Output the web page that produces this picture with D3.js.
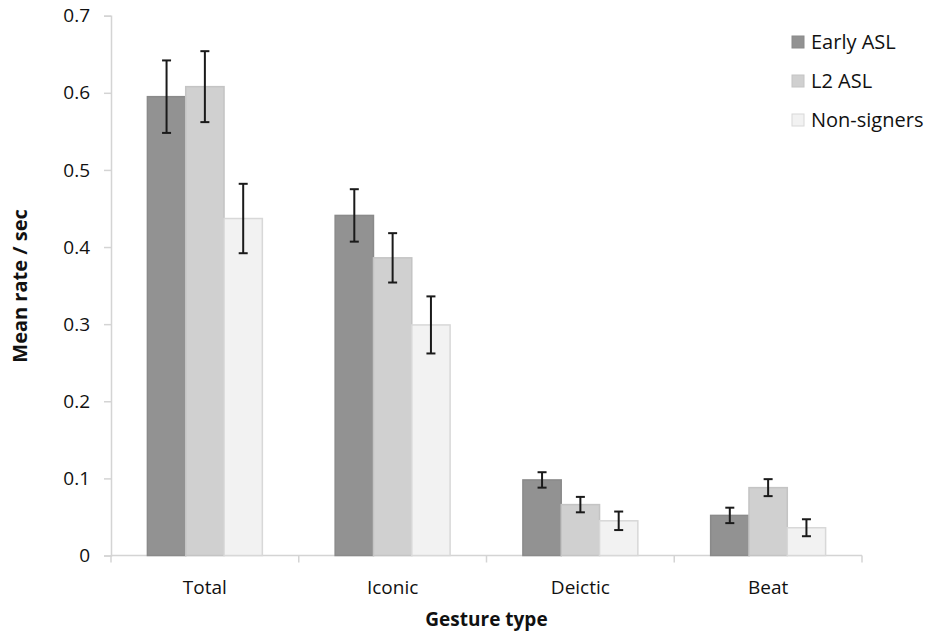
<!DOCTYPE html>
<html>
<head>
<meta charset="utf-8">
<script src="https://cdn.jsdelivr.net/npm/d3@7"></script>
<style>
  body { margin: 0; background: #fff; }
  text { font-family: "Open Sans", "Noto Sans", sans-serif; fill: #111; }
</style>
</head>
<body>
<div id="canvas"></div>
<script>
var categories = ['Total', 'Iconic', 'Deictic', 'Beat'];
var groups = ['Early ASL', 'L2 ASL', 'Non-signers'];
var earlyASL = [0.595, 0.441, 0.098, 0.052];
var l2ASL = [0.608, 0.386, 0.066, 0.088];
var nonSigners = [0.437, 0.299, 0.045, 0.036];
var earlyErr = [0.047, 0.034, 0.010, 0.010];
var l2Err = [0.046, 0.032, 0.010, 0.011];
var nonErr = [0.045, 0.037, 0.012, 0.011];
var yTicks = [0, 0.1, 0.2, 0.3, 0.4, 0.5, 0.6, 0.7];

var series = [earlyASL, l2ASL, nonSigners];
var errs = [earlyErr, l2Err, nonErr];
var fills = ['#929292', '#d0d0d0', '#f2f2f2'];
var strokes = ['#8a8a8a', '#c4c4c4', '#d8d8d8'];

var W = 930, H = 635;
var m = {t: 16, r: 68, b: 80, l: 111};

var svg = d3.select('#canvas').append('svg')
    .attr('width', W).attr('height', H);

var x = d3.scaleBand().domain(categories).range([m.l, W - m.r]);
var xi = d3.scaleBand().domain(groups).range([0, x.bandwidth()]).paddingOuter(0.95);
var y = d3.scaleLinear().domain([0, 0.7]).range([555.5, 15.7]);

// axes
var yAxis = svg.append('g').attr('transform', 'translate(' + m.l + ',0)')
    .call(d3.axisLeft(y).tickValues(yTicks).tickFormat(function(d){ return d === 0 ? '0' : d3.format('.1f')(d); }).tickSize(7).tickPadding(14));
yAxis.selectAll('line, path').attr('stroke', '#d4d4d4').attr('stroke-width', 1.5);
yAxis.selectAll('text').style('font-size', '19px').attr('fill', '#111');

var xTickPos = categories.map(function(c){ return x(c); }).concat([x.range()[1]]);
var xAxis = svg.append('g');
xAxis.append('line')
    .attr('x1', m.l).attr('x2', x.range()[1])
    .attr('y1', y(0)).attr('y2', y(0))
    .attr('stroke', '#d4d4d4').attr('stroke-width', 1.5);
xAxis.selectAll('.xt').data(xTickPos).enter().append('line')
    .attr('x1', function(d){ return d; }).attr('x2', function(d){ return d; })
    .attr('y1', y(0)).attr('y2', y(0) + 7)
    .attr('stroke', '#d4d4d4').attr('stroke-width', 1.5);
xAxis.selectAll('.xl').data(categories).enter().append('text')
    .attr('x', function(d){ return x(d) + x.bandwidth() / 2; })
    .attr('y', 594)
    .attr('text-anchor', 'middle')
    .style('font-size', '19px')
    .text(function(d){ return d; });

// bars
groups.forEach(function(g, gi){
  var gEl = svg.append('g');
  gEl.selectAll('rect').data(series[gi]).enter().append('rect')
      .attr('x', function(d, i){ return x(categories[i]) + xi(g); })
      .attr('width', xi.bandwidth())
      .attr('y', function(d){ return y(d); })
      .attr('height', function(d){ return y(0) - y(d); })
      .attr('fill', fills[gi])
      .attr('stroke', strokes[gi]).attr('stroke-width', 1.5);
});

// error bars
groups.forEach(function(g, gi){
  var eg = svg.append('g').attr('stroke', '#1a1a1a').attr('stroke-width', 2);
  series[gi].forEach(function(v, i){
    var cx = x(categories[i]) + xi(g) + xi.bandwidth() / 2;
    var lo = y(v - errs[gi][i]), hi = y(v + errs[gi][i]);
    eg.append('line').attr('x1', cx).attr('x2', cx).attr('y1', lo).attr('y2', hi);
    eg.append('line').attr('x1', cx - 4.5).attr('x2', cx + 4.5).attr('y1', lo).attr('y2', lo);
    eg.append('line').attr('x1', cx - 4.5).attr('x2', cx + 4.5).attr('y1', hi).attr('y2', hi);
  });
});

// axis titles
svg.append('text')
    .attr('x', x(categories[2]))
    .attr('y', 626)
    .attr('text-anchor', 'middle')
    .style('font-size', '19px').style('font-weight', 'bold')
    .text('Gesture type');
svg.append('text')
    .attr('transform', 'translate(27,' + 286 + ') rotate(-90)')
    .attr('text-anchor', 'middle')
    .style('font-size', '20px').style('font-weight', 'bold')
    .text('Mean rate / sec');

// legend
var legend = svg.append('g').attr('transform', 'translate(792,36)');
groups.forEach(function(g, gi){
  var row = legend.append('g').attr('transform', 'translate(0,' + gi * 39 + ')');
  row.append('rect').attr('width', 12).attr('height', 12)
      .attr('fill', fills[gi]).attr('stroke', strokes[gi]).attr('stroke-width', 1);
  row.append('text').attr('x', 19).attr('y', 13)
      .style('font-size', '20px')
      .text(g);
});
</script>
</body>
</html>
